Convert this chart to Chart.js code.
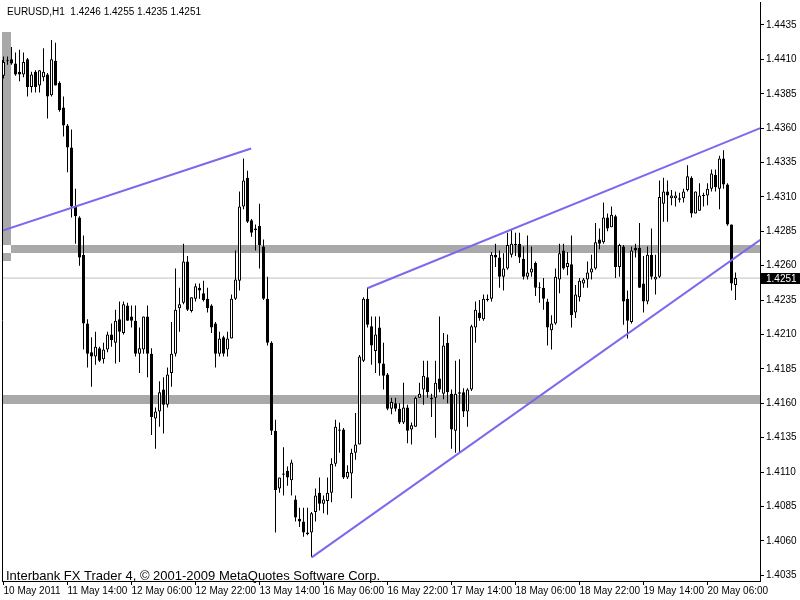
<!DOCTYPE html>
<html>
<head>
<meta charset="utf-8">
<script src="https://cdn.jsdelivr.net/npm/chart.js@4.4.1/dist/chart.umd.min.js"></script>
<style>
  html, body { margin: 0; padding: 0; background: #fff; }
  #wrap { width: 800px; height: 600px; }
</style>
</head>
<body>
<div id="wrap"><canvas id="chart" width="800" height="600"></canvas></div>
<script>
// EURUSD H1 bars (index 0 = first visible bar)
const openP = [1.4398,1.4409,1.4410,1.4407,1.4401,1.4399,1.4410,1.4390,1.4401,1.4391,1.4397,1.4399,1.4384,1.4409,1.4393,1.4375,1.4362,1.4346,1.4303,1.4295,
  1.4268,1.4218,1.4197,1.4194,1.4200,1.4192,1.4199,1.4210,1.4204,1.4221,1.4211,1.4231,1.4223,1.4220,1.4196,1.4199,1.4223,1.4196,1.4149,1.4154,
  1.4170,1.4159,1.4182,1.4196,1.4229,1.4233,1.4263,1.4227,1.4236,1.4244,1.4240,1.4236,1.4231,1.4218,1.4196,1.4208,1.4199,1.4207,1.4236,1.4249,
  1.4303,1.4324,1.4293,1.4287,1.4289,1.4274,1.4236,1.4204,1.4140,1.4098,1.4109,1.4111,1.4104,1.4090,1.4076,1.4074,1.4066,1.4066,1.4081,1.4095,
  1.4087,1.4089,1.4095,1.4116,1.4141,1.4141,1.4106,1.4109,1.4124,1.4130,1.4191,1.4236,1.4216,1.4198,1.4215,1.4189,1.4181,1.4156,1.4160,1.4156,
  1.4146,1.4157,1.4141,1.4143,1.4164,1.4170,1.4179,1.4164,1.4164,1.4178,1.4167,1.4204,1.4167,1.4140,1.4168,1.4168,1.4154,1.4170,1.4215,1.4226,
  1.4221,1.4236,1.4236,1.4268,1.4266,1.4252,1.4258,1.4268,1.4276,1.4276,1.4265,1.4252,1.4255,1.4262,1.4244,1.4244,1.4234,1.4213,1.4218,1.4250,
  1.4271,1.4259,1.4261,1.4226,1.4237,1.4247,1.4250,1.4255,1.4258,1.4279,1.4277,1.4295,1.4288,1.4296,1.4259,1.4274,1.4236,1.4219,1.4273,1.4273,
  1.4247,1.4234,1.4268,1.4250,1.4252,1.4305,1.4314,1.4309,1.4309,1.4309,1.4309,1.4315,1.4324,1.4298,1.4300,1.4311,1.4311,1.4316,1.4326,1.4316,
  1.4338,1.4319,1.4290,1.4246];
const highP = [1.4412,1.4412,1.4419,1.4415,1.4417,1.4415,1.4411,1.4401,1.4402,1.4402,1.4418,1.4400,1.4424,1.4422,1.4394,1.4383,1.4363,1.4359,1.4316,1.4296,
  1.4282,1.4221,1.4208,1.4212,1.4201,1.4204,1.4212,1.4218,1.4228,1.4234,1.4234,1.4233,1.4231,1.4231,1.4215,1.4223,1.4231,1.4200,1.4157,1.4176,
  1.4179,1.4186,1.4219,1.4258,1.4244,1.4276,1.4267,1.4237,1.4247,1.4247,1.4249,1.4244,1.4232,1.4219,1.4212,1.4209,1.4212,1.4239,1.4271,1.4314,
  1.4338,1.4329,1.4294,1.4290,1.4305,1.4279,1.4252,1.4205,1.4148,1.4106,1.4128,1.4114,1.4119,1.4093,1.4084,1.4084,1.4084,1.4081,1.4098,1.4106,
  1.4093,1.4106,1.4120,1.4148,1.4146,1.4142,1.4115,1.4127,1.4153,1.4195,1.4237,1.4244,1.4223,1.4223,1.4223,1.4204,1.4182,1.4164,1.4164,1.4160,
  1.4175,1.4159,1.4146,1.4165,1.4175,1.4191,1.4191,1.4167,1.4191,1.4223,1.4211,1.4210,1.4170,1.4191,1.4192,1.4171,1.4171,1.4217,1.4234,1.4235,
  1.4239,1.4239,1.4270,1.4276,1.4271,1.4269,1.4284,1.4286,1.4284,1.4284,1.4274,1.4282,1.4274,1.4263,1.4248,1.4251,1.4236,1.4224,1.4258,1.4276,
  1.4276,1.4270,1.4282,1.4246,1.4251,1.4251,1.4263,1.4268,1.4291,1.4287,1.4306,1.4298,1.4303,1.4297,1.4276,1.4275,1.4242,1.4274,1.4276,1.4291,
  1.4267,1.4274,1.4287,1.4268,1.4322,1.4324,1.4322,1.4315,1.4314,1.4313,1.4316,1.4333,1.4325,1.4314,1.4320,1.4313,1.4320,1.4330,1.4330,1.4340,
  1.4344,1.4320,1.4290,1.4255];
const lowP = [1.4396,1.4406,1.4406,1.4398,1.4394,1.4397,1.4383,1.4386,1.4386,1.4386,1.4394,1.4367,1.4383,1.4391,1.4372,1.4354,1.4328,1.4295,1.4276,1.4260,
  1.4199,1.4186,1.4172,1.4188,1.4190,1.4189,1.4197,1.4201,1.4189,1.4190,1.4210,1.4220,1.4215,1.4194,1.4182,1.4196,1.4179,1.4137,1.4127,1.4143,
  1.4138,1.4157,1.4172,1.4194,1.4212,1.4232,1.4227,1.4226,1.4234,1.4236,1.4234,1.4226,1.4211,1.4186,1.4194,1.4194,1.4194,1.4207,1.4235,1.4242,
  1.4301,1.4291,1.4281,1.4271,1.4258,1.4235,1.4202,1.4137,1.4066,1.4095,1.4093,1.4100,1.4093,1.4074,1.4070,1.4063,1.4064,1.4048,1.4074,1.4082,
  1.4080,1.4079,1.4088,1.4114,1.4124,1.4105,1.4105,1.4091,1.4119,1.4130,1.4190,1.4215,1.4188,1.4182,1.4180,1.4170,1.4155,1.4152,1.4154,1.4145,
  1.4145,1.4131,1.4130,1.4143,1.4164,1.4159,1.4164,1.4150,1.4135,1.4168,1.4163,1.4160,1.4127,1.4124,1.4124,1.4150,1.4143,1.4169,1.4204,1.4220,
  1.4220,1.4234,1.4234,1.4259,1.4244,1.4242,1.4257,1.4266,1.4267,1.4262,1.4250,1.4250,1.4252,1.4238,1.4233,1.4228,1.4202,1.4199,1.4217,1.4240,
  1.4257,1.4253,1.4215,1.4222,1.4234,1.4244,1.4244,1.4250,1.4257,1.4272,1.4276,1.4285,1.4288,1.4251,1.4252,1.4217,1.4207,1.4218,1.4266,1.4244,
  1.4226,1.4232,1.4250,1.4239,1.4251,1.4292,1.4292,1.4304,1.4303,1.4306,1.4306,1.4314,1.4295,1.4298,1.4300,1.4303,1.4304,1.4314,1.4314,1.4301,
  1.4316,1.4289,1.4242,1.4235];
const closeP = [1.4408,1.4409,1.4407,1.4399,1.4399,1.4408,1.4390,1.4399,1.4390,1.4402,1.4401,1.4383,1.4410,1.4391,1.4373,1.4362,1.4346,1.4303,1.4296,1.4266,
  1.4218,1.4196,1.4194,1.4201,1.4191,1.4199,1.4210,1.4206,1.4220,1.4212,1.4232,1.4220,1.4220,1.4196,1.4200,1.4223,1.4196,1.4150,1.4154,1.4168,
  1.4159,1.4181,1.4196,1.4228,1.4232,1.4263,1.4228,1.4237,1.4245,1.4242,1.4235,1.4229,1.4215,1.4196,1.4207,1.4196,1.4207,1.4236,1.4250,1.4303,
  1.4322,1.4292,1.4284,1.4286,1.4275,1.4236,1.4204,1.4140,1.4097,1.4106,1.4108,1.4106,1.4117,1.4077,1.4074,1.4066,1.4065,1.4080,1.4093,1.4087,
  1.4090,1.4095,1.4116,1.4143,1.4140,1.4106,1.4110,1.4124,1.4130,1.4194,1.4236,1.4217,1.4202,1.4210,1.4189,1.4180,1.4156,1.4161,1.4156,1.4146,
  1.4157,1.4140,1.4144,1.4164,1.4167,1.4180,1.4168,1.4163,1.4175,1.4170,1.4202,1.4168,1.4141,1.4167,1.4167,1.4154,1.4170,1.4216,1.4228,1.4222,
  1.4236,1.4235,1.4268,1.4266,1.4252,1.4258,1.4275,1.4276,1.4275,1.4266,1.4252,1.4255,1.4258,1.4244,1.4244,1.4236,1.4215,1.4218,1.4252,1.4269,
  1.4258,1.4262,1.4224,1.4239,1.4249,1.4250,1.4255,1.4258,1.4277,1.4276,1.4295,1.4287,1.4297,1.4259,1.4275,1.4234,1.4220,1.4271,1.4271,1.4244,
  1.4234,1.4268,1.4252,1.4252,1.4310,1.4314,1.4311,1.4311,1.4311,1.4308,1.4314,1.4325,1.4298,1.4314,1.4311,1.4311,1.4316,1.4327,1.4317,1.4338,
  1.4319,1.4290,1.4247,1.4251];

const timeTickIdx = [0, 16, 32, 48, 64, 80, 96, 112, 128, 144, 160, 176];
const timeLabels = ['10 May 2011','11 May 14:00','12 May 06:00','12 May 22:00','13 May 14:00','16 May 06:00',
  '16 May 22:00','17 May 14:00','18 May 06:00','18 May 22:00','19 May 14:00','20 May 06:00'];
const priceTicks = [1.4035,1.4060,1.4085,1.4110,1.4135,1.4160,1.4185,1.4210,1.4235,1.4260,1.4285,1.4310,1.4335,1.4360,1.4385,1.4410,1.4435];

// trend lines: [startIdx, startPrice, endIdx, endPrice]
const trendA = [-0.4, 1.42853, 61.9, 1.43452];
const trendB = [90.95, 1.42436, 189.2, 1.43600];
const trendC = [77.05, 1.40480, 189.2, 1.42789];

// gray rectangle objects: x0, x1 (bar index), top, bottom (price)
const zoneX0 = [-0.5, -0.5, 1.875, -0.5];
const zoneX1 = [1.875, 1.875, 190, 190];
const zoneTop = [1.44299, 1.42693, 1.42751, 1.41660];
const zoneBottom = [1.42751, 1.42634, 1.42693, 1.41595];

const symbolText = 'EURUSD,H1  1.4246 1.4255 1.4235 1.4251';
const copyText = 'Interbank FX Trader 4, \u00A9 2001-2009 MetaQuotes Software Corp.';

const xMin = -0.375, xMax = 189.125;
const yMin = 1.40308, yMax = 1.44517;
const lastClose = closeP[closeP.length - 1];

const wickData = lowP.map((l, i) => ({ x: i, y: [l, highP[i]] }));
const bodyData = openP.map((o, i) => {
  let lo = Math.min(o, closeP[i]), hi = Math.max(o, closeP[i]);
  if (hi - lo < 0.00008) { const m = (hi + lo) / 2; lo = m - 0.00004; hi = m + 0.00004; }
  return { x: i, y: [lo, hi] };
});
const bodyColors = openP.map((o, i) => closeP[i] > o ? '#ffffff' : '#000000');

function seg(t) { return [{ x: t[0], y: t[1] }, { x: t[2], y: t[3] }]; }

const font = 'Liberation Sans';

const overlay = {
  id: 'overlay',
  beforeDatasetsDraw(chart) {
    const { ctx, chartArea: a, scales: { x, y } } = chart;
    ctx.save();
    ctx.beginPath();
    ctx.rect(a.left, a.top, a.right - a.left, a.bottom - a.top);
    ctx.clip();
    ctx.fillStyle = '#a9a9a9';
    for (let k = 0; k < zoneX0.length; k++) {
      const x0 = Math.round(x.getPixelForValue(zoneX0[k]));
      const x1 = Math.round(x.getPixelForValue(zoneX1[k]));
      const y0 = Math.round(y.getPixelForValue(zoneTop[k]));
      const y1 = Math.round(y.getPixelForValue(zoneBottom[k]));
      ctx.fillRect(x0, y0, x1 - x0, y1 - y0);
    }
    ctx.restore();
  },
  afterDraw(chart) {
    const { ctx, chartArea: a, scales: { y } } = chart;
    ctx.save();
    ctx.strokeStyle = '#000';
    ctx.lineWidth = 1;
    ctx.beginPath();
    ctx.moveTo(a.left + 0.5, 60);
    ctx.lineTo(a.left + 0.5, a.bottom);
    ctx.stroke();

    ctx.fillStyle = '#000';
    ctx.textBaseline = 'alphabetic';
    ctx.font = '10px "' + font + '"';
    ctx.fillText(symbolText, 7, 15);
    ctx.font = '13px "' + font + '"';
    ctx.fillText(copyText, 6, 580);

    const py = Math.round(y.getPixelForValue(lastClose));
    ctx.fillRect(a.right + 1, py - 5, 800 - a.right, 11);
    ctx.fillStyle = '#fff';
    ctx.textBaseline = 'middle';
    ctx.font = '10px "' + font + '"';
    ctx.fillText(lastClose.toFixed(4), a.right + 6, py + 1);
    ctx.restore();
  }
};

new Chart(document.getElementById('chart'), {
  type: 'bar',
  data: {
    datasets: [
      { type: 'line', data: seg(trendA), borderColor: '#7b68ee', borderWidth: 2, pointRadius: 0 },
      { type: 'line', data: seg(trendB), borderColor: '#7b68ee', borderWidth: 2, pointRadius: 0 },
      { type: 'line', data: seg(trendC), borderColor: '#7b68ee', borderWidth: 2, pointRadius: 0 },
      { type: 'bar', data: bodyData, backgroundColor: bodyColors, borderColor: '#000', borderWidth: 1,
        borderSkipped: false, barThickness: 3, grouped: false, inflateAmount: 0 },
      { type: 'bar', data: wickData, backgroundColor: '#000', borderWidth: 0,
        barThickness: 1, grouped: false, inflateAmount: 0 },
      { type: 'line', data: [{ x: xMin, y: lastClose }, { x: xMax, y: lastClose }],
        borderColor: '#c0c0c0', borderWidth: 1, pointRadius: 0 }
    ]
  },
  options: {
    responsive: false,
    animation: false,
    devicePixelRatio: 1,
    layout: { padding: { left: 2, top: 2, right: 0, bottom: 0 } },
    plugins: { legend: { display: false }, tooltip: { enabled: false } },
    scales: {
      x: {
        type: 'linear', min: xMin, max: xMax, offset: false,
        afterBuildTicks: s => { s.ticks = timeTickIdx.map(v => ({ value: v })); },
        afterFit: s => { s.height = 19; s.paddingLeft = 0; s.paddingRight = 0; },
        ticks: {
          autoSkip: false, maxRotation: 0, align: 'start', padding: 0, color: '#000',
          font: { family: font, size: 10 },
          callback: v => timeLabels[timeTickIdx.indexOf(v)]
        },
        grid: { drawOnChartArea: false, drawTicks: true, tickLength: 4, color: '#000', offset: false },
        border: { display: true, color: '#000', width: 1 }
      },
      y: {
        type: 'linear', position: 'right', min: yMin, max: yMax,
        afterBuildTicks: s => { s.ticks = priceTicks.map(v => ({ value: v })); },
        afterFit: s => { s.width = 40; s.paddingTop = 0; s.paddingBottom = 0; },
        ticks: {
          padding: 2, color: '#000', font: { family: font, size: 10 },
          callback: v => v.toFixed(4)
        },
        grid: { drawOnChartArea: false, drawTicks: true, tickLength: 4, color: '#000' },
        border: { display: true, color: '#000', width: 1 }
      }
    }
  },
  plugins: [overlay]
});
</script>
</body>
</html>
